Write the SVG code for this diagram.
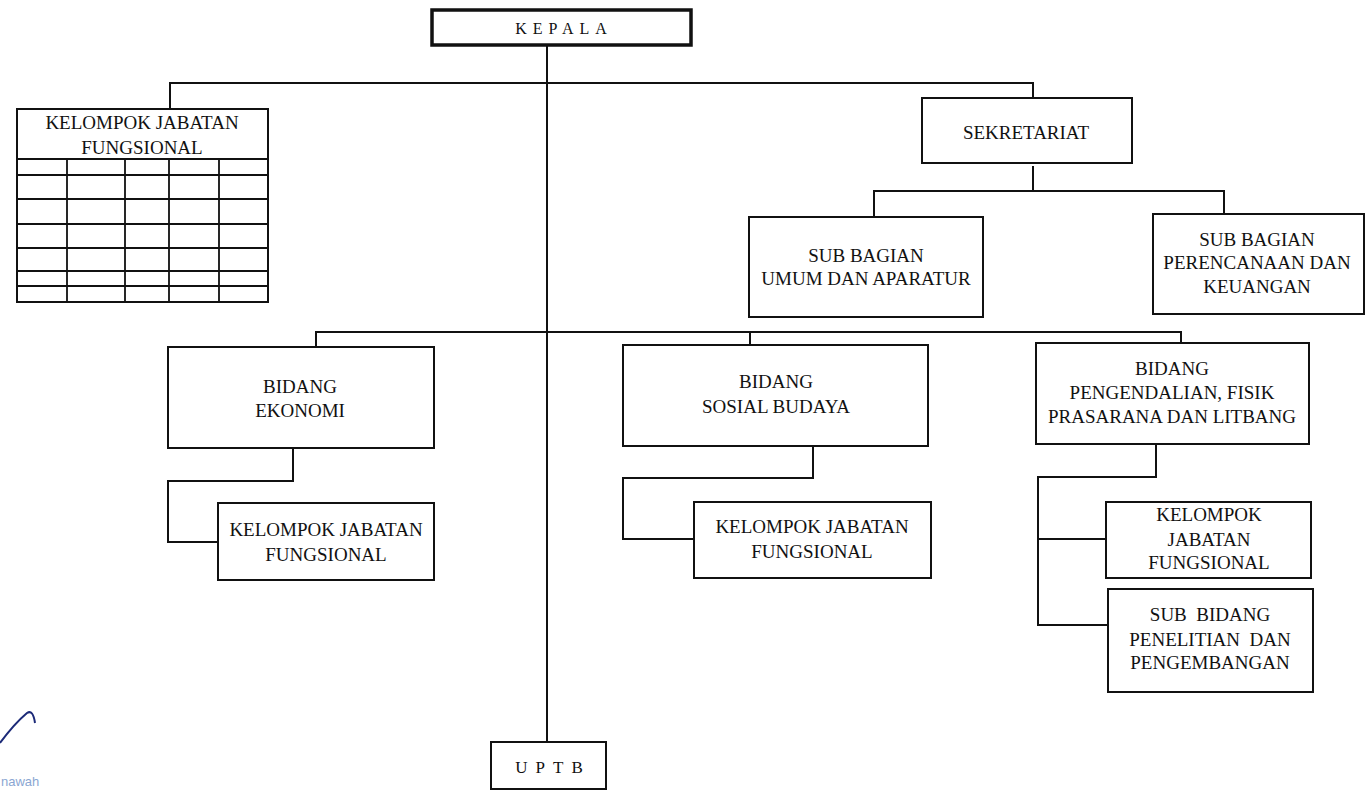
<svg xmlns="http://www.w3.org/2000/svg" width="1365" height="790" viewBox="0 0 1365 790">
<style>
.box{fill:#fff;stroke:#111;stroke-width:2}
.thick{fill:#fff;stroke:#111;stroke-width:3.5}
.ln{fill:none;stroke:#111;stroke-width:2}
.grid{fill:none;stroke:#111;stroke-width:1.8}
text{font-family:"Liberation Serif","Times New Roman",serif;font-size:19px;fill:#111;text-anchor:middle}
.sp{font-size:16px;letter-spacing:6px}
.sp2{font-size:17px;letter-spacing:8px}
.sig{font-family:"Liberation Sans",Arial,sans-serif;font-size:13px;fill:#8aa6d2;text-anchor:start}
</style>
<rect width="1365" height="790" fill="#fff"/>
<g id="connectors">
<path class="ln" d="M547 45 V742"/>
<path class="ln" d="M170 109 V83 H1033 V98"/>
<path class="ln" d="M1033 166 V191 M874 217 V191 H1224 V214"/>
<path class="ln" d="M316 347 V332 H1181 V343 M750 332 V345"/>
<path class="ln" d="M293 448 V481 H168 V542 H218"/>
<path class="ln" d="M813 446 V478 H623 V539 H694"/>
<path class="ln" d="M1156 444 V477 H1038 V625 H1108 M1038 539 H1106"/>
</g>
<g id="kepala">
<rect class="thick" x="432" y="10" width="259" height="35"/>
<text class="sp" x="564" y="34">KEPALA</text>
</g>
<g id="kjf-kepala">
<rect class="box" x="17" y="109" width="251" height="193"/>
<path class="grid" d="M17 159 H268 M17 175 H268 M17 199 H268 M17 224 H268 M17 248 H268 M17 271 H268 M17 286 H268 M67 159 V302 M125 159 V302 M169 159 V302 M219 159 V302"/>
<text x="142" y="129">KELOMPOK JABATAN</text>
<text x="142" y="154">FUNGSIONAL</text>
</g>
<g id="sekretariat">
<rect class="box" x="922" y="98" width="210" height="65"/>
<text x="1026" y="139">SEKRETARIAT</text>
</g>
<g id="subbag-umum">
<rect class="box" x="749" y="217" width="234" height="100"/>
<text x="866" y="262">SUB BAGIAN</text>
<text x="866" y="285">UMUM DAN APARATUR</text>
</g>
<g id="subbag-perencanaan">
<rect class="box" x="1153" y="214" width="211" height="100"/>
<text x="1257" y="246">SUB BAGIAN</text>
<text x="1257" y="269">PERENCANAAN DAN</text>
<text x="1257" y="293">KEUANGAN</text>
</g>
<g id="bidang-ekonomi">
<rect class="box" x="168" y="347" width="266" height="101"/>
<text x="300" y="393">BIDANG</text>
<text x="300" y="417">EKONOMI</text>
</g>
<g id="kjf-ekonomi">
<rect class="box" x="218" y="503" width="216" height="77"/>
<text x="326" y="536">KELOMPOK JABATAN</text>
<text x="326" y="561">FUNGSIONAL</text>
</g>
<g id="bidang-sosial">
<rect class="box" x="623" y="345" width="305" height="101"/>
<text x="776" y="388">BIDANG</text>
<text x="776" y="413">SOSIAL BUDAYA</text>
</g>
<g id="kjf-sosial">
<rect class="box" x="694" y="502" width="237" height="76"/>
<text x="812" y="533">KELOMPOK JABATAN</text>
<text x="812" y="558">FUNGSIONAL</text>
</g>
<g id="bidang-pengendalian">
<rect class="box" x="1036" y="343" width="273" height="101"/>
<text x="1172" y="375">BIDANG</text>
<text x="1172" y="399">PENGENDALIAN, FISIK</text>
<text x="1172" y="423">PRASARANA DAN LITBANG</text>
</g>
<g id="kjf-pengendalian">
<rect class="box" x="1106" y="502" width="205" height="76"/>
<text x="1209" y="521">KELOMPOK</text>
<text x="1209" y="546">JABATAN</text>
<text x="1209" y="569">FUNGSIONAL</text>
</g>
<g id="subbid-penelitian">
<rect class="box" x="1108" y="589" width="205" height="103"/>
<text x="1210" y="621" xml:space="preserve">SUB  BIDANG</text>
<text x="1210" y="646" xml:space="preserve">PENELITIAN  DAN</text>
<text x="1210" y="669">PENGEMBANGAN</text>
</g>
<g id="uptb">
<rect class="box" x="491" y="742" width="115" height="47"/>
<text class="sp2" x="553" y="773">UPTB</text>
</g>
<g id="signature">
<path d="M0 743 Q14 724 27 713 Q33 709 35 723" fill="none" stroke="#1c2a78" stroke-width="2"/>
<text class="sig" x="1" y="786">nawah</text>
</g>
</svg>
